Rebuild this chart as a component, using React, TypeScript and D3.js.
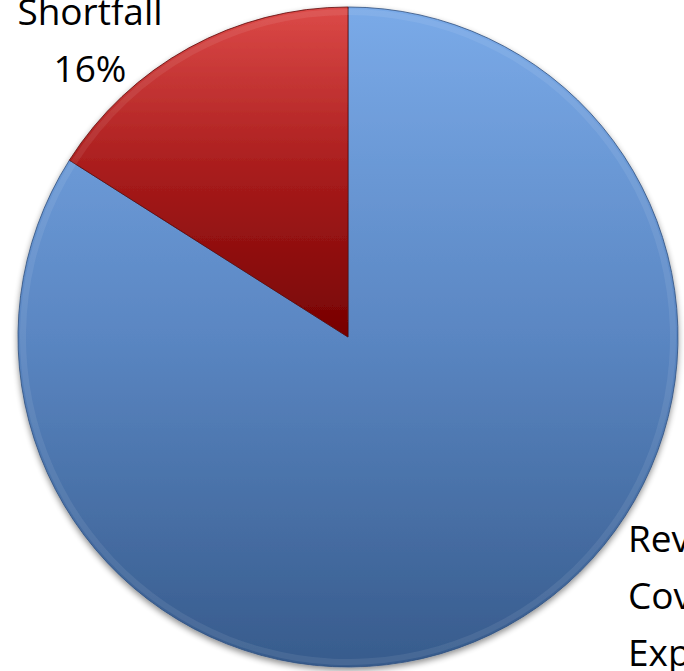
import * as d3 from 'd3'

// slice values (percent) and label text
const categories = ['Revenue Covers Expenses', 'Shortfall']
const values = [84, 16]
const labelLines = [
  ['Revenue', 'Covers', 'Expenses', '84%'],
  ['Shortfall', '16%'],
]
const gradStops = [
  ['#7aaae8', '#5a86c2', '#375b8c'],
  ['#dc4a48', '#a81c1c', '#760202'],
]

const width = 684
const height = 671
const cx = 348
const cy = 337
const radius = 330
const lineGap = 57

function App() {
  const pie = d3
    .pie<number>()
    .sort(null)
    .startAngle(0)
    .endAngle(2 * Math.PI)
  const arcs = pie(values)
  const arc = d3.arc<d3.PieArcDatum<number>>().innerRadius(0).outerRadius(radius)

  // label anchors: revenue label sits lower right, shortfall above upper left
  const labelPos = [
    { x: 628, y: 552, anchor: 'start' },
    { x: 90, y: 25, anchor: 'middle' },
  ]

  return (
    <svg
      width={width}
      height={height}
      style={{ position: 'absolute', left: 0, top: 0 }}
      fontFamily="'Open Sans', sans-serif"
    >
      <defs>
        {gradStops.map((s, i) => (
          <linearGradient key={i} id={`grad-${i}`} x1="0" y1="0" x2="0" y2="1">
            <stop offset="0%" stopColor={s[0]} />
            <stop offset="50%" stopColor={s[1]} />
            <stop offset="100%" stopColor={s[2]} />
          </linearGradient>
        ))}
        <filter id="shadow" x="-10%" y="-10%" width="120%" height="120%">
          <feGaussianBlur in="SourceAlpha" stdDeviation="3" />
          <feOffset dx="0" dy="3" result="blur" />
          <feComponentTransfer>
            <feFuncA type="linear" slope="0.45" />
          </feComponentTransfer>
          <feMerge>
            <feMergeNode />
            <feMergeNode in="SourceGraphic" />
          </feMerge>
        </filter>
      </defs>
      <g transform={`translate(${cx},${cy})`}>
        <g filter="url(#shadow)">
          {arcs.map((d, i) => (
            <path
              key={categories[i]}
              d={arc(d) || ''}
              fill={`url(#grad-${i})`}
              stroke={i === 1 ? '#5e0a0a' : '#2f4f7d'}
              strokeWidth={0.8}
            />
          ))}
        </g>
        {arcs.map((d, i) => (
          <path
            key={'hl' + i}
            d={d3.arc<d3.PieArcDatum<number>>().innerRadius(radius - 8).outerRadius(radius - 2)(d) || ''}
            fill="#ffffff"
            opacity={0.08}
          />
        ))}
      </g>
      {labelLines.map((lines, i) => (
        <text
          key={'lbl' + i}
          x={labelPos[i].x}
          y={labelPos[i].y}
          textAnchor={labelPos[i].anchor}
          fontSize={37}
          fill="#000"
        >
          {lines.map((t, j) => (
            <tspan key={j} x={labelPos[i].x} y={labelPos[i].y + j * lineGap}>
              {t}
            </tspan>
          ))}
        </text>
      ))}
    </svg>
  )
}

export default App
